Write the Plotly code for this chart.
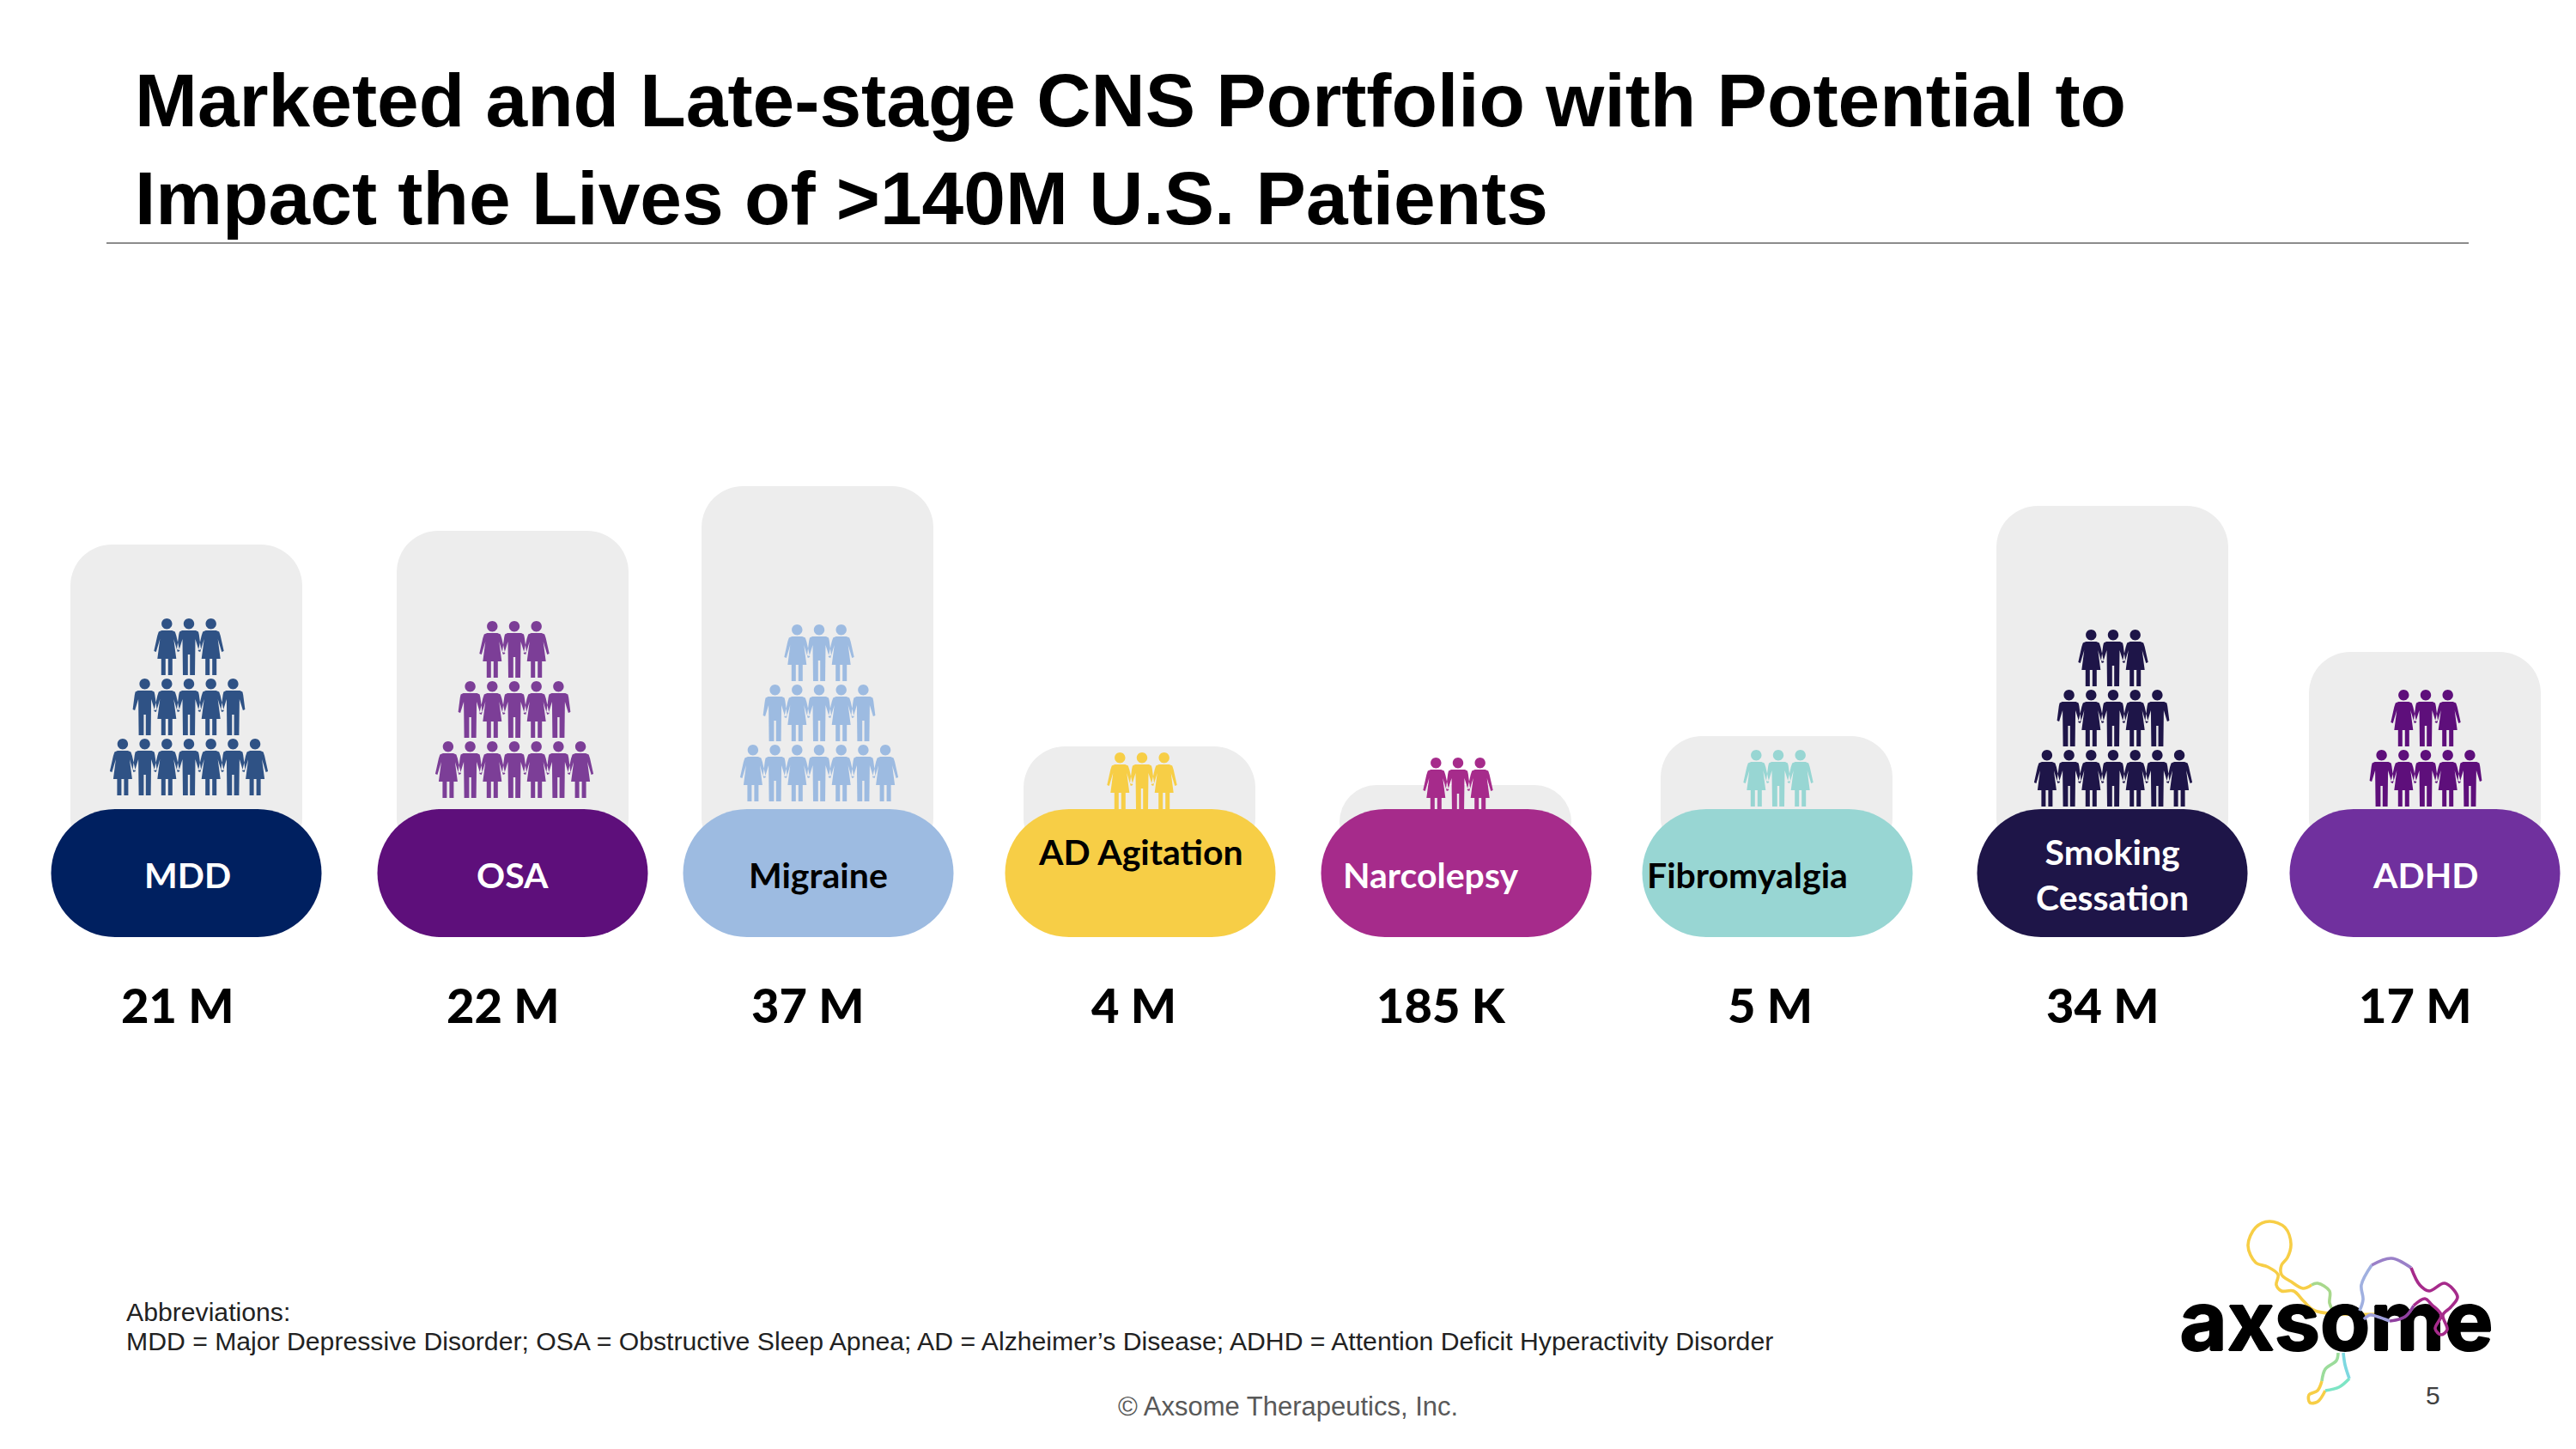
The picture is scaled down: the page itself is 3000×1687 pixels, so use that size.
import plotly.graph_objects as go

# values and labels
categories = ['MDD', 'OSA', 'Migraine', 'AD Agitation', 'Narcolepsy', 'Fibromyalgia', 'Smoking<br>Cessation', 'ADHD']
patients = ['21 M', '22 M', '37 M', '4 M', '185 K', '5 M', '34 M', '17 M']
panel_heights = [366, 382, 434, 131, 86, 143, 411, 241]
people_rows = [[3, 5, 7], [3, 5, 7], [3, 5, 7], [3], [3], [3], [3, 5, 7], [3, 5]]

panel_x = [217, 597, 952, 1327, 1695, 2069, 2460, 2824]
pill_x = [217, 597, 953, 1328, 1696, 2070, 2460, 2824]
people_x = [220, 599, 954, 1330, 1698, 2071, 2461, 2825]
people_y = [720, 723, 727, 876, 882, 873, 733, 803]
label_x = [218, 597, 953, 1328, 1666, 2035, 2460, 2824]
label_y = [1018, 1018, 1018, 991, 1018, 1018, 1018, 1018]
value_x = [207, 586, 941, 1320, 1678, 2061, 2449, 2813]

pill_colors = ['#002060', '#5E0F7B', '#9DBBE1', '#F7CE46', '#A62B8B', '#98D6D3', '#1E1548', '#70309E']
people_colors = ['#2F5285', '#7C3E97', '#9DBBE1', '#F7CE46', '#A62B8B', '#98D6D3', '#1E1548', '#5E0F7B']
label_colors = ['white', 'white', 'black', 'black', 'white', 'black', 'white', 'white']

title = 'Marketed and Late-stage CNS Portfolio with Potential to<br>Impact the Lives of &gt;140M U.S. Patients'
abbrev_head = 'Abbreviations:'
abbrev = ('MDD = Major Depressive Disorder; OSA = Obstructive Sleep Apnea; '
          'AD = Alzheimer’s Disease; ADHD = Attention Deficit Hyperactivity Disorder')

# logo squiggles, pixel positions on the slide: (colour, xs, ys)
logo_back = [
    ('#F7CE46', [2795, 2696, 2683, 2671, 2657, 2651, 2653, 2641, 2627, 2618, 2627, 2643, 2661, 2668, 2664, 2657, 2657, 2668, 2682, 2692],
     [1529, 1526, 1515, 1503, 1503, 1496, 1484, 1475, 1470, 1450, 1429, 1422, 1429, 1448, 1464, 1473, 1484, 1492, 1500, 1496]),
    ('#A8D88C', [2692, 2699, 2713, 2713, 2718], [1496, 1494, 1503, 1517, 1528]),
    ('#9BDC9B', [2723, 2721, 2708, 2704], [1575, 1584, 1594, 1608]),
    ('#F7CE46', [2704, 2699, 2689, 2690, 2699, 2708], [1608, 1619, 1624, 1633, 1632, 1619]),
    ('#7DE5C5', [2708, 2724, 2736], [1619, 1615, 1605]),
    ('#7DD8E0', [2736, 2731, 2729], [1605, 1589, 1575]),
]
logo_front = [
    ('#A0B0E0', [2748, 2752, 2750, 2762], [1526, 1513, 1496, 1473]),
    ('#9A80C8', [2762, 2785, 2808], [1473, 1465, 1476]),
    ('#A62B8B', [2808, 2818, 2829, 2847, 2862, 2854, 2845, 2850, 2843, 2836, 2843, 2832, 2824, 2811],
     [1476, 1496, 1503, 1494, 1510, 1522, 1531, 1548, 1554, 1547, 1531, 1519, 1512, 1520]),
    ('#9040A0', [2811, 2801, 2783], [1520, 1533, 1538]),
    ('#9FA0DC', [2783, 2769, 2760, 2753], [1538, 1533, 1531, 1536]),
]

TOP_FONT = 'Liberation Sans'
LABEL_FONT = 'Lato'
THICK = '1px 0 0 #000,-1px 0 0 #000,0 1px 0 #000,0 -1px 0 #000'


def pill_path(cx, top, bottom, half_w):
    r = (bottom - top) / 2
    k = r * 0.5523
    mid = (top + bottom) / 2
    left, right = cx - half_w, cx + half_w
    return (f'M {left + r},{top} L {right - r},{top} '
            f'C {right - r + k},{top} {right},{mid - k} {right},{mid} '
            f'C {right},{mid + k} {right - r + k},{bottom} {right - r},{bottom} '
            f'L {left + r},{bottom} '
            f'C {left + r - k},{bottom} {left},{mid + k} {left},{mid} '
            f'C {left},{mid - k} {left + r - k},{top} {left + r},{top} Z')


MAN = [(-8, 14), (8, 14), (11, 15.5), (11.8, 19), (14, 36), (11.5, 37), (7.5, 24), (7, 66), (1.2, 66), (1.2, 42),
       (-1.2, 42), (-1.2, 66), (-7, 66), (-7.5, 24), (-11.5, 37), (-14, 36), (-11.8, 19), (-11, 15.5)]
WOMAN = [(-6, 14), (6, 14), (9.5, 15.5), (11, 20), (15, 38), (12.5, 39), (8, 24), (11, 47), (6.5, 47), (6.5, 66),
         (1.5, 66), (1.5, 47), (-1.5, 47), (-1.5, 66), (-6.5, 66), (-6.5, 47), (-11, 47), (-8, 24),
         (-12.5, 39), (-15, 38), (-11, 20), (-9.5, 15.5)]


def person_path(cx, top, woman):
    r, k = 6.2, 3.4
    cy = top + 6.2
    head = (f'M {cx + r},{cy} C {cx + r},{cy + k} {cx + k},{cy + r} {cx},{cy + r} '
            f'C {cx - k},{cy + r} {cx - r},{cy + k} {cx - r},{cy} '
            f'C {cx - r},{cy - k} {cx - k},{cy - r} {cx},{cy - r} '
            f'C {cx + k},{cy - r} {cx + r},{cy - k} {cx + r},{cy} Z ')
    pts = WOMAN if woman else MAN
    body = 'M ' + ' L '.join(f'{cx + px},{top + py}' for px, py in pts) + ' Z'
    return head + body


def crowd_path(cx, top, rows):
    parts = []
    for i, n in enumerate(rows):
        for j in range(n):
            off = j - (n - 1) // 2
            parts.append(person_path(cx + off * 25.7, top + i * 70, off % 2 == 1))
    return ' '.join(parts)


fig = go.Figure()

fig.add_trace(go.Bar(x=panel_x, y=[-h for h in panel_heights], base=[1000] * len(panel_x), width=270,
                     marker=dict(color='#EDEDED', line_width=0, cornerradius=48), hoverinfo='skip'))

for color, xs, ys in logo_back:
    fig.add_trace(go.Scatter(x=xs, y=ys, mode='lines', line=dict(color=color, width=3.6, shape='spline'), hoverinfo='skip'))

fig.add_trace(go.Scatter(x=[2721], y=[1548], mode='text', text=['<b>axsome</b>'], textposition='middle center',
                         textfont=dict(family='Inter', size=95, color='black', weight=900, shadow=THICK), hoverinfo='skip'))

for color, xs, ys in logo_front:
    fig.add_trace(go.Scatter(x=xs, y=ys, mode='lines', line=dict(color=color, width=3.6, shape='spline'), hoverinfo='skip'))

shapes = []
for i in range(len(categories)):
    shapes.append(dict(type='path', path=crowd_path(people_x[i], people_y[i], people_rows[i]),
                       fillcolor=people_colors[i], line_width=0, xref='x', yref='y'))
for i in range(len(categories)):
    shapes.append(dict(type='path', path=pill_path(pill_x[i], 942, 1091, 157.5),
                       fillcolor=pill_colors[i], line_width=0, xref='x', yref='y'))
shapes.append(dict(type='line', x0=124, x1=2875, y0=283, y1=283, line=dict(color='#8C8C8C', width=2), xref='x', yref='y'))

annotations = [
    dict(x=155, y=66, text=f'<b>{title}</b>', xanchor='left', yanchor='top', align='left',
         font=dict(family=TOP_FONT, size=87.5, color='black')),
    dict(x=145, y=1527, text=abbrev_head, xanchor='left', yanchor='middle',
         font=dict(family=TOP_FONT, size=30.2, color='#222222')),
    dict(x=145, y=1561, text=abbrev, xanchor='left', yanchor='middle',
         font=dict(family=TOP_FONT, size=30.2, color='#222222')),
    dict(x=1500, y=1637, text='© Axsome Therapeutics, Inc.', xanchor='center', yanchor='middle',
         font=dict(family=TOP_FONT, size=31, color='#595959')),
    dict(x=2833, y=1624, text='5', xanchor='center', yanchor='middle',
         font=dict(family=TOP_FONT, size=30, color='#404040')),
]
for i in range(len(categories)):
    annotations.append(dict(x=label_x[i], y=label_y[i], text=categories[i], xanchor='center', yanchor='middle',
                            font=dict(family=LABEL_FONT, size=41, color=label_colors[i], weight=700)))
    annotations.append(dict(x=value_x[i], y=1169, text=patients[i], xanchor='center', yanchor='middle',
                            font=dict(family=LABEL_FONT, size=56, color='black', weight=900)))
for a in annotations:
    a.update(xref='x', yref='y', showarrow=False)

fig.update_layout(width=3000, height=1687, margin=dict(l=0, r=0, t=0, b=0), showlegend=False,
                  paper_bgcolor='white', plot_bgcolor='white', shapes=shapes, annotations=annotations,
                  xaxis=dict(range=[0, 3000], visible=False), yaxis=dict(range=[1687, 0], visible=False))

# page body margin would push the slide off its position
fig.write_html("out.html", config={'displayModeBar': False}, post_script="document.body.style.margin='0';")
